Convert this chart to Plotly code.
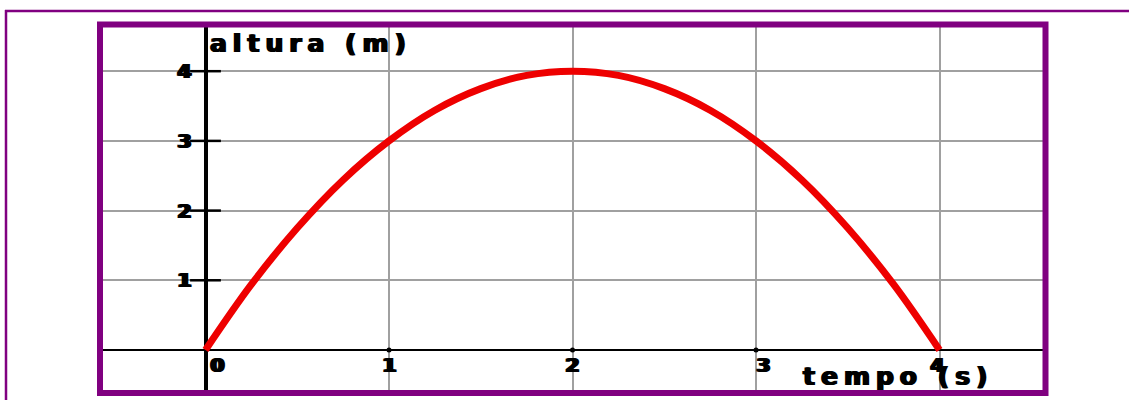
import plotly.graph_objects as go

# Data
tempo = [0, 0.25, 0.5, 0.75, 1, 1.25, 1.5, 1.75, 2, 2.25, 2.5, 2.75, 3, 3.25, 3.5, 3.75, 4]
altura = [0, 0.94, 1.75, 2.44, 3, 3.44, 3.75, 3.94, 4, 3.94, 3.75, 3.44, 3, 2.44, 1.75, 0.94, 0]
x_ticks = [0, 1, 2, 3, 4]
x_tick_labels = ["0", "1", "2", "3", "4"]
y_ticks = [1, 2, 3, 4]
y_tick_labels = ["1", "2", "3", "4"]
x_dot_ticks = [1, 2, 3]
y_title = "altura (m)"
x_title = "tempo (s)"

W, H = 1129, 400
PURPLE = "#800080"
FONT = "DejaVu Sans"
WIDE = "1px 0px 0px black, 2px 0px 0px black"
WIDER = "1px 0px 0px black, 2px 0px 0px black, 3px 0px 0px black"

fig = go.Figure()

fig.add_trace(go.Scatter(
    x=tempo, y=altura, mode="lines", line=dict(color="#ee0000", width=7, shape="spline"),
    hoverinfo="skip", showlegend=False))

# crossing ticks on the vertical axis
fig.add_trace(go.Scatter(
    x=[0] * len(y_ticks), y=y_ticks, mode="markers",
    marker=dict(symbol="line-ew", size=22, line=dict(color="black", width=2.5)),
    hoverinfo="skip", showlegend=False))

# dot ticks on the horizontal axis
fig.add_trace(go.Scatter(
    x=x_dot_ticks, y=[0] * len(x_dot_ticks), mode="markers",
    marker=dict(symbol="circle", size=5, color="black"),
    hoverinfo="skip", showlegend=False))

annotations = []
x_shifts = [10, -1, -2, 6, -4]
for xv, lab, sh in zip(x_ticks, x_tick_labels, x_shifts):
    annotations.append(dict(x=xv, y=0, xref="x", yref="y", text=f"<b>{lab}</b>",
                            showarrow=False, xanchor="center", yanchor="top",
                            xshift=sh, yshift=-1,
                            font=dict(family=FONT, size=20, color="black", shadow=WIDER)))
for yv, lab in zip(y_ticks, y_tick_labels):
    annotations.append(dict(x=0, y=yv, xref="x", yref="y", text=f"<b>{lab}</b>",
                            showarrow=False, xanchor="right", yanchor="middle",
                            xshift=-14,
                            font=dict(family=FONT, size=20, color="black", shadow=WIDER)))
SP = '<span style="letter-spacing:6px"><b>{}</b></span>'
annotations.append(dict(x=207 / W, y=(400 - 43) / H, xref="paper", yref="paper",
                        text=SP.format(y_title), showarrow=False, xanchor="left",
                        yanchor="middle",
                        font=dict(family=FONT, size=25, color="black", shadow=WIDE)))
annotations.append(dict(x=800 / W, y=(400 - 376) / H, xref="paper", yref="paper",
                        text=SP.format(x_title), showarrow=False, xanchor="left",
                        yanchor="middle",
                        font=dict(family=FONT, size=25, color="black", shadow=WIDE)))

shapes = [
    # inner thick frame
    dict(type="rect", xref="paper", yref="paper",
         x0=100 / W, x1=1045.5 / W, y0=(400 - 393) / H, y1=(400 - 24.5) / H,
         line=dict(color=PURPLE, width=6), layer="above"),
    # outer thin frame (top and left)
    dict(type="line", xref="paper", yref="paper",
         x0=5 / W, x1=1, y0=(400 - 11) / H, y1=(400 - 11) / H,
         line=dict(color=PURPLE, width=2.5)),
    dict(type="line", xref="paper", yref="paper",
         x0=6 / W, x1=6 / W, y0=0, y1=(400 - 10) / H,
         line=dict(color=PURPLE, width=2.5)),
]

fig.update_layout(
    width=W, height=H, margin=dict(l=0, r=0, t=0, b=0),
    paper_bgcolor="white", plot_bgcolor="white",
    annotations=annotations, shapes=shapes,
    xaxis=dict(domain=[103 / W, 1043 / W], range=[-0.5586, 4.564],
               tickmode="array", tickvals=x_ticks, showticklabels=False, ticks="",
               showgrid=True, gridcolor="#a0a0a0", gridwidth=1.5,
               zeroline=True, zerolinecolor="black", zerolinewidth=3.5,
               showline=False, fixedrange=True),
    yaxis=dict(domain=[(400 - 390) / H, (400 - 27) / H], range=[-0.574, 4.634],
               tickmode="array", tickvals=y_ticks, showticklabels=False, ticks="",
               showgrid=True, gridcolor="#a0a0a0", gridwidth=1.5,
               zeroline=True, zerolinecolor="black", zerolinewidth=2,
               showline=False, fixedrange=True),
)

fig.write_html("out.html", config={"displayModeBar": False},
               post_script="document.body.style.margin='0px';document.body.style.overflow='hidden';")
